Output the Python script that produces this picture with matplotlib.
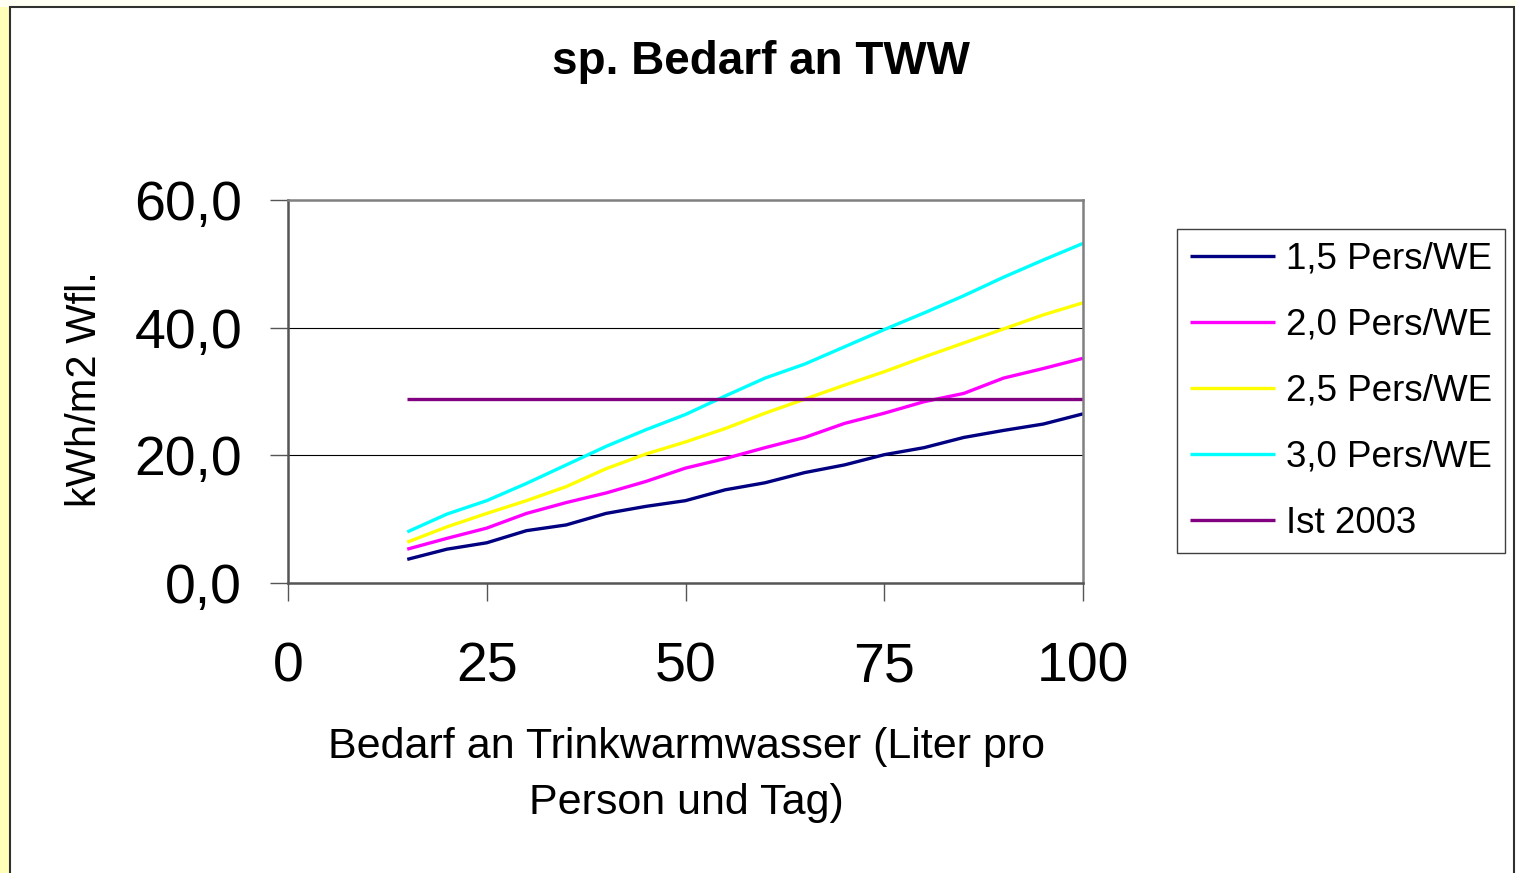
import numpy as np
import matplotlib
matplotlib.use("Agg")
import matplotlib.pyplot as plt
from matplotlib.patches import Rectangle
from matplotlib.ticker import FuncFormatter

# data
liter = [15, 20, 25, 30, 35, 40, 45, 50, 55, 60, 65, 70, 75, 80, 85, 90, 95, 100]
pers_15 = [3.7, 5.3, 6.3, 8.2, 9.1, 10.9, 12.0, 12.9, 14.6, 15.7, 17.3, 18.5, 20.1, 21.2, 22.8, 23.9, 24.9, 26.5]
pers_20 = [5.3, 7.0, 8.6, 10.9, 12.6, 14.1, 15.9, 18.0, 19.5, 21.2, 22.8, 25.0, 26.6, 28.4, 29.7, 32.1, 33.6, 35.2]
pers_25 = [6.4, 8.8, 10.9, 12.9, 15.1, 17.9, 20.2, 22.1, 24.2, 26.6, 28.8, 31.0, 33.1, 35.4, 37.6, 39.8, 42.0, 43.9]
pers_30 = [8.0, 10.8, 12.9, 15.6, 18.5, 21.4, 24.0, 26.4, 29.3, 32.1, 34.3, 37.0, 39.7, 42.3, 45.0, 47.9, 50.6, 53.2]
ist_2003 = 28.8

labels = ["1,5 Pers/WE", "2,0 Pers/WE", "2,5 Pers/WE", "3,0 Pers/WE", "Ist 2003"]
colors = ["#000080", "#FF00FF", "#FFFF00", "#00FFFF", "#800080"]

plt.rcParams['font.family'] = ['Liberation Sans', 'DejaVu Sans']

W, H = 1516, 873
fig = plt.figure(figsize=(W / 100, H / 100), dpi=100)
fig.patch.set_facecolor("white")

# outer background strips and chart frame
fig.patches.append(Rectangle((0, 0), 10 / W, 1, transform=fig.transFigure,
                             facecolor="#FFFFB8", edgecolor="none", zorder=-5))
fig.patches.append(Rectangle((0, 1 - 7 / H), 1, 7 / H, transform=fig.transFigure,
                             facecolor="#FFFFF4", edgecolor="none", zorder=-5))
fig.patches.append(Rectangle((10 / W, -0.01), 1504 / W, 1.01 - 7 / H, transform=fig.transFigure,
                             facecolor="white", edgecolor="#303030", linewidth=1.5, zorder=-4))

ax = fig.add_axes([288 / W, 1 - 583 / H, (1083 - 288) / W, (583 - 200) / H])
ax.set_zorder(2)
ax.set_facecolor("none")

series = [pers_15, pers_20, pers_25, pers_30, [ist_2003] * len(liter)]
for vals, lab, col in zip(series, labels, colors):
    ax.plot(liter, vals, color=col, linewidth=2.4, label=lab, solid_capstyle="butt")

ax.set_xlim(0, 100)
ax.set_ylim(0, 60)
ax.set_xticks([0, 25, 50, 75, 100])
ax.set_yticks([0, 20, 40, 60])
ax.yaxis.set_major_formatter(FuncFormatter(lambda v, p: f"{v:.1f}".replace(".", ",")))

for y in [20, 40]:
    ax.axhline(y, color="black", linewidth=0.8, zorder=1)

for s in ["top", "right"]:
    ax.spines[s].set_color("#808080")
    ax.spines[s].set_linewidth(1.8)
for s in ["left", "bottom"]:
    ax.spines[s].set_color("#555555")
    ax.spines[s].set_linewidth(1.8)

ax.tick_params(axis="both", direction="out", length=13, width=1.0, color="#555555",
               labelsize=40)
ax.tick_params(axis="y", pad=20)
ax.tick_params(axis="x", pad=29)

fig.text(761 / W, 1 - 62 / H, "sp. Bedarf an TWW", ha="center", va="center",
         fontsize=33, fontweight="bold")
fig.text(686 / W, 1 - 775 / H, "Bedarf an Trinkwarmwasser (Liter pro\nPerson und Tag)",
         ha="center", va="center", fontsize=31, linespacing=1.5)
fig.text(85 / W, 1 - 389 / H, "kWh/m2 Wfl.", ha="center", va="center",
         rotation=90, fontsize=30)

leg = fig.legend(loc="upper left", bbox_to_anchor=(1177 / W, 1 - 229 / H),
                 bbox_transform=fig.transFigure, fontsize=26.5, frameon=True,
                 fancybox=False, edgecolor="#404040", framealpha=1,
                 handlelength=2.3, handletextpad=0.3, labelspacing=0.84,
                 borderpad=0.35, borderaxespad=0)
leg.get_frame().set_linewidth(1.0)

fig.savefig("out.png", dpi=100)
